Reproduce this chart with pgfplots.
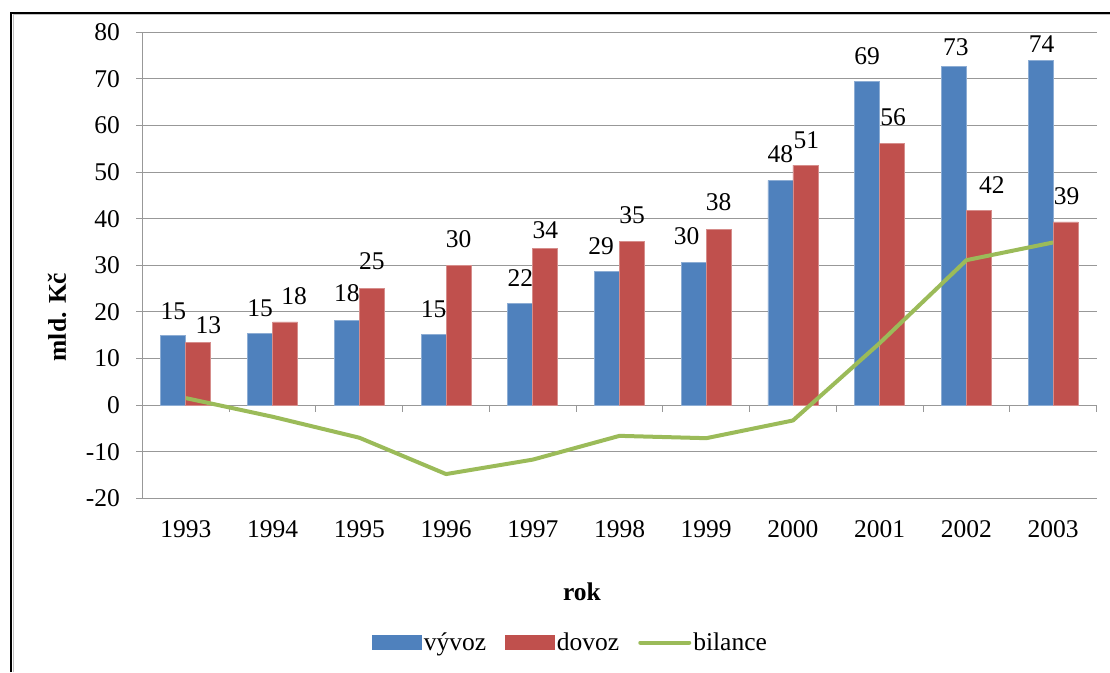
\documentclass[border=0pt]{standalone}
\usepackage{fontspec}
\setmainfont{Liberation Serif}
\usepackage{pgfplots}
\usepackage{pgfplotstable}
\pgfplotsset{compat=1.18}
\definecolor{vblue}{HTML}{4F81BD}
\definecolor{vred}{HTML}{C0504D}
\definecolor{vgreen}{HTML}{9BBB59}
\definecolor{gridgray}{HTML}{989898}

\pgfplotstableread{
x y lab dx dy
0 14.9 15 0 16
1 15.35 15 0 16
2 18.1 18 0 18.5
3 15.1 15 0 16.7
4 21.9 22 0 16
5 28.7 29 -6 16
6 30.7 30 -7 16.7
7 48.2 48 0 17.5
8 69.5 69 0 16
9 72.7 73 2 10
10 74.0 74 1 7
}\vyvoz
\pgfplotstableread{
x y lab dx dy
0 13.4 13 10 9
1 17.85 18 9 17
2 25.1 25 0 17.5
3 30.0 30 0 16.7
4 33.7 34 0 9.3
5 35.2 35 0 17.3
6 37.7 38 0 18
7 51.5 51 1 16.3
8 56.2 56 1 17.3
9 41.7 42 13 17
10 39.3 39 1 16.7
}\dovoz
\pgfplotstableread{
x y
0 1.5
1 -2.5
2 -7.0
3 -14.8
4 -11.7
5 -6.6
6 -7.1
7 -3.3
8 13.3
9 31.1
10 34.9
}\bilance

\begin{document}
\begin{tikzpicture}
\path[use as bounding box] (0,0) rectangle (1110pt,672pt);
% chart frame
\draw[gridgray!60, line width=1pt] (13.6pt,0) -- (13.6pt,657.2pt) -- (1110pt,657.2pt);
\draw[black, line width=2.4pt] (11.2pt,0) -- (11.2pt,659.2pt) -- (1110pt,659.2pt);
\begin{axis}[
  at={(142.5pt,173.7pt)}, anchor=south west,
  scale only axis, width=954pt, height=466pt,
  font=\fontsize{25.5}{30}\selectfont,
  xmin=-0.5, xmax=10.5, ymin=-20, ymax=80,
  axis line style={draw=none},
  xtick={0,...,10},
  xticklabels={1993,1994,1995,1996,1997,1998,1999,2000,2001,2002,2003},
  ytick={-20,-10,0,10,20,30,40,50,60,70,80},
  yticklabels={-20,-10,0,10,20,30,40,50,60,70,80},
  xtick style={draw=none}, ytick style={draw=none},
  xticklabel style={anchor=north, inner sep=0pt, yshift=-21.7pt},
  yticklabel style={anchor=east, inner sep=0pt, xshift=-22.5pt},
  ymajorgrids, grid style={gridgray, line width=1pt},
  xlabel={\bfseries rok},
  xlabel style={at={(axis description cs:0.4607,-0.2011)}, anchor=center},
  ylabel={\bfseries mld. Kč},
  ylabel style={at={(axis description cs:-0.0896,0.389)}, anchor=center},
  legend columns=3,
  legend style={draw=none, fill=none, at={(axis description cs:0.4486,-0.3095)}, anchor=center,
    font=\fontsize{25.5}{30}\selectfont, inner sep=0pt,
    nodes={inner sep=2pt},
    /tikz/every even column/.append style={column sep=17pt}},
  clip=false,
]
% axis lines and ticks
\draw[gridgray, line width=1pt] (axis cs:-0.5,-20) -- (axis cs:-0.5,80);
\draw[gridgray, line width=1pt] (axis cs:-0.5,0) -- (axis cs:10.5,0);
\pgfplotsinvokeforeach{-0.5,0.5,...,10.5}{\draw[gridgray, line width=1pt] (axis cs:#1,0) -- ++(0pt,-7pt);}
\pgfplotsinvokeforeach{-20,-10,...,80}{\draw[gridgray, line width=1pt] (axis cs:-0.5,#1) -- ++(-7pt,0pt);}

\addplot[ybar, bar width=25pt, bar shift=-12.5pt, fill=vblue, draw=vblue!65!white, line width=0.8pt,
  point meta=explicit symbolic,
  visualization depends on={\thisrow{dx}\as\dx},
  visualization depends on={\thisrow{dy}\as\dy},
  nodes near coords,
  nodes near coords style={anchor=south, inner sep=0pt, xshift={\dx pt-12.5pt}, yshift={\dy pt}, font=\fontsize{25.5}{30}\selectfont, text=black},
  legend image code/.code={\fill[vblue] (0pt,-6.7pt) rectangle (49pt,6.7pt);}
] table[x=x, y=y, meta=lab] {\vyvoz};
\addlegendentry{vývoz}

\addplot[ybar, bar width=25pt, bar shift=12.5pt, fill=vred, draw=vred!65!white, line width=0.8pt,
  point meta=explicit symbolic,
  visualization depends on={\thisrow{dx}\as\dx},
  visualization depends on={\thisrow{dy}\as\dy},
  nodes near coords,
  nodes near coords style={anchor=south, inner sep=0pt, xshift={\dx pt+12.5pt}, yshift={\dy pt}, font=\fontsize{25.5}{30}\selectfont, text=black},
  legend image code/.code={\fill[vred] (0pt,-6.7pt) rectangle (49pt,6.7pt);}
] table[x=x, y=y, meta=lab] {\dovoz};
\addlegendentry{dovoz}

\addplot[vgreen, line width=4pt, line join=round, mark=none,
  legend image code/.code={\draw[vgreen, line width=4pt, line cap=round] (1pt,0pt) -- (50pt,0pt);}
] table[x=x, y=y] {\bilance};
\addlegendentry{bilance}
\end{axis}
\end{tikzpicture}
\end{document}
